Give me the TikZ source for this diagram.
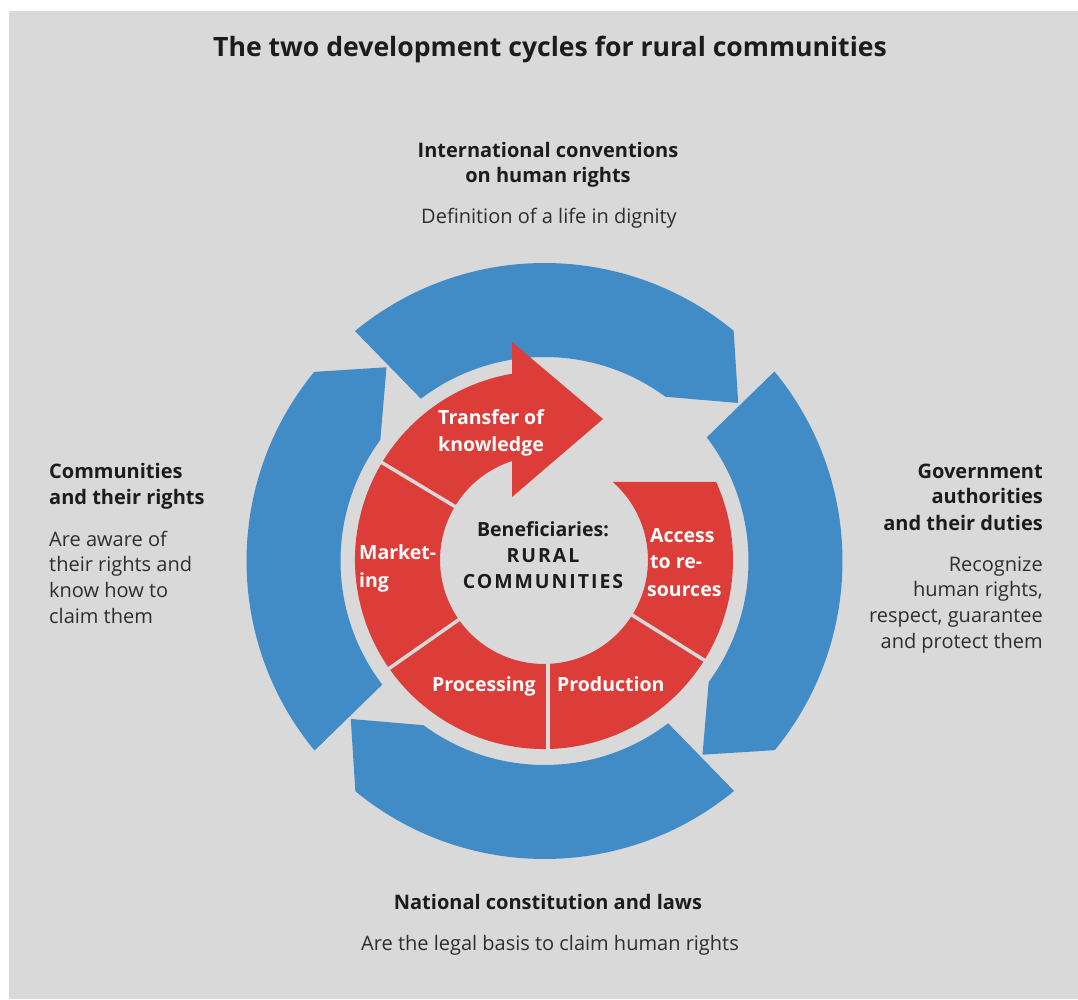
\documentclass[tikz,border=0pt]{standalone}
\usepackage{fontspec}
\setmainfont{Open Sans}
\definecolor{bgc}{HTML}{D9D9D9}
\definecolor{bluec}{HTML}{418BC6}
\definecolor{redc}{HTML}{DC3D38}
\definecolor{darkc}{HTML}{1C1C1C}
\definecolor{bodyc}{HTML}{2E2E2E}
\begin{document}
\begin{tikzpicture}[x=1pt,y=1pt,
  txt/.style={inner sep=0pt, anchor=base, text=bodyc, font=\fontsize{20}{24}\selectfont},
  hd/.style={txt, text=darkc, font=\fontsize{20}{24}\selectfont\bfseries},
  wl/.style={inner sep=0pt, anchor=base west, text=white, font=\fontsize{19.5}{23}\selectfont\bfseries},
  ctr/.style={inner sep=0pt, anchor=base, text=darkc, font=\fontsize{19.5}{23}\selectfont\bfseries},
  sep/.style={draw=bgc, line width=3.5pt}]
\useasboundingbox (0,0) rectangle (1078,999);
\fill[bgc] (9,0) rectangle (1078,988);
% blue cycle
\begin{scope}[shift={(544.5,438)}]
\foreach \r in {0,-90,-180,90} {
  \begin{scope}[rotate=\r]
  \fill[bluec] (129.5:298pt) arc[start angle=129.5,end angle=50.6,radius=298pt]
    -- (39.2:250pt) -- (53.6:204pt)
    arc[start angle=53.6,end angle=127.3,radius=204pt] -- cycle;
  \end{scope}
}
\end{scope}
% red cycle
\begin{scope}[shift={(544,439)}]
\fill[redc] (149:189pt) arc[start angle=149,end angle=99.75,radius=189pt]
  -- (-32,218) -- (59,141) -- (-32,63) -- (107.9:104pt)
  arc[start angle=107.9,end angle=149,radius=104pt] -- cycle;
\fill[redc] (149:189pt) arc[start angle=149,end angle=384.4,radius=189pt]
  -- (408.6:104pt) arc[start angle=408.6,end angle=149,radius=104pt] -- cycle;
\draw[sep] (149:98pt) -- (149:195pt);
\draw[sep] (215:98pt) -- (215:195pt);
\draw[sep] (328:98pt) -- (328:195pt);
\draw[sep] (4,-95) -- (4,-195);
\end{scope}
% title
\node[hd, font=\fontsize{26.6}{32}\selectfont\bfseries] (title) at (550,942) {The two development cycles for rural communities};
% top
\node[hd] (t1) at (548,841) {International conventions};
\node[hd] (t2) at (548,816) {on human rights};
\node[txt] (t3) at (549,775) {Definition of a life in dignity};
% left
\node[hd, anchor=base west] (l1) at (49,520) {Communities};
\node[hd, anchor=base west] (l2) at (49,494) {and their rights};
\node[txt, anchor=base west] (l3) at (49,452) {Are aware of};
\node[txt, anchor=base west] (l4) at (49,427) {their rights and};
\node[txt, anchor=base west] (l5) at (49,401) {know how to};
\node[txt, anchor=base west] (l6) at (49,375) {claim them};
% right
\node[hd, anchor=base east] (r1) at (1043,520) {Government};
\node[hd, anchor=base east] (r2) at (1043,495) {authorities};
\node[hd, anchor=base east] (r3) at (1043,468) {and their duties};
\node[txt, anchor=base east] (r4) at (1043,427) {Recognize};
\node[txt, anchor=base east] (r5) at (1043,402) {human rights,};
\node[txt, anchor=base east] (r6) at (1043,376) {respect, guarantee};
\node[txt, anchor=base east] (r7) at (1043,350) {and protect them};
% bottom
\node[hd] (b1) at (548,90) {National constitution and laws};
\node[txt] (b2) at (550,49) {Are the legal basis to claim human rights};
% inner labels
\node[wl] (k1) at (438,574) {Transfer of};
\node[wl] (k2) at (438,547) {knowledge};
\node[wl] (m1) at (359,439) {Market-};
\node[wl] (m2) at (359,411) {ing};
\node[wl] (a1) at (650,456) {Access};
\node[wl] (a2) at (650,430) {to re-};
\node[wl] (a3) at (647,402) {sources};
\node[wl] (p1) at (432,308) {Processing};
\node[wl] (p2) at (557,308) {Production};
\node[ctr] (c1) at (543,462) {Beneficiaries:};
\node[ctr, font=\fontsize{19.5}{23}\selectfont\bfseries\addfontfeature{LetterSpace=10}] (c2) at (543,436) {RURAL};
\node[ctr, font=\fontsize{19.5}{23}\selectfont\bfseries\addfontfeature{LetterSpace=10}] (c3) at (543,410) {COMMUNITIES};
\end{tikzpicture}
\end{document}
